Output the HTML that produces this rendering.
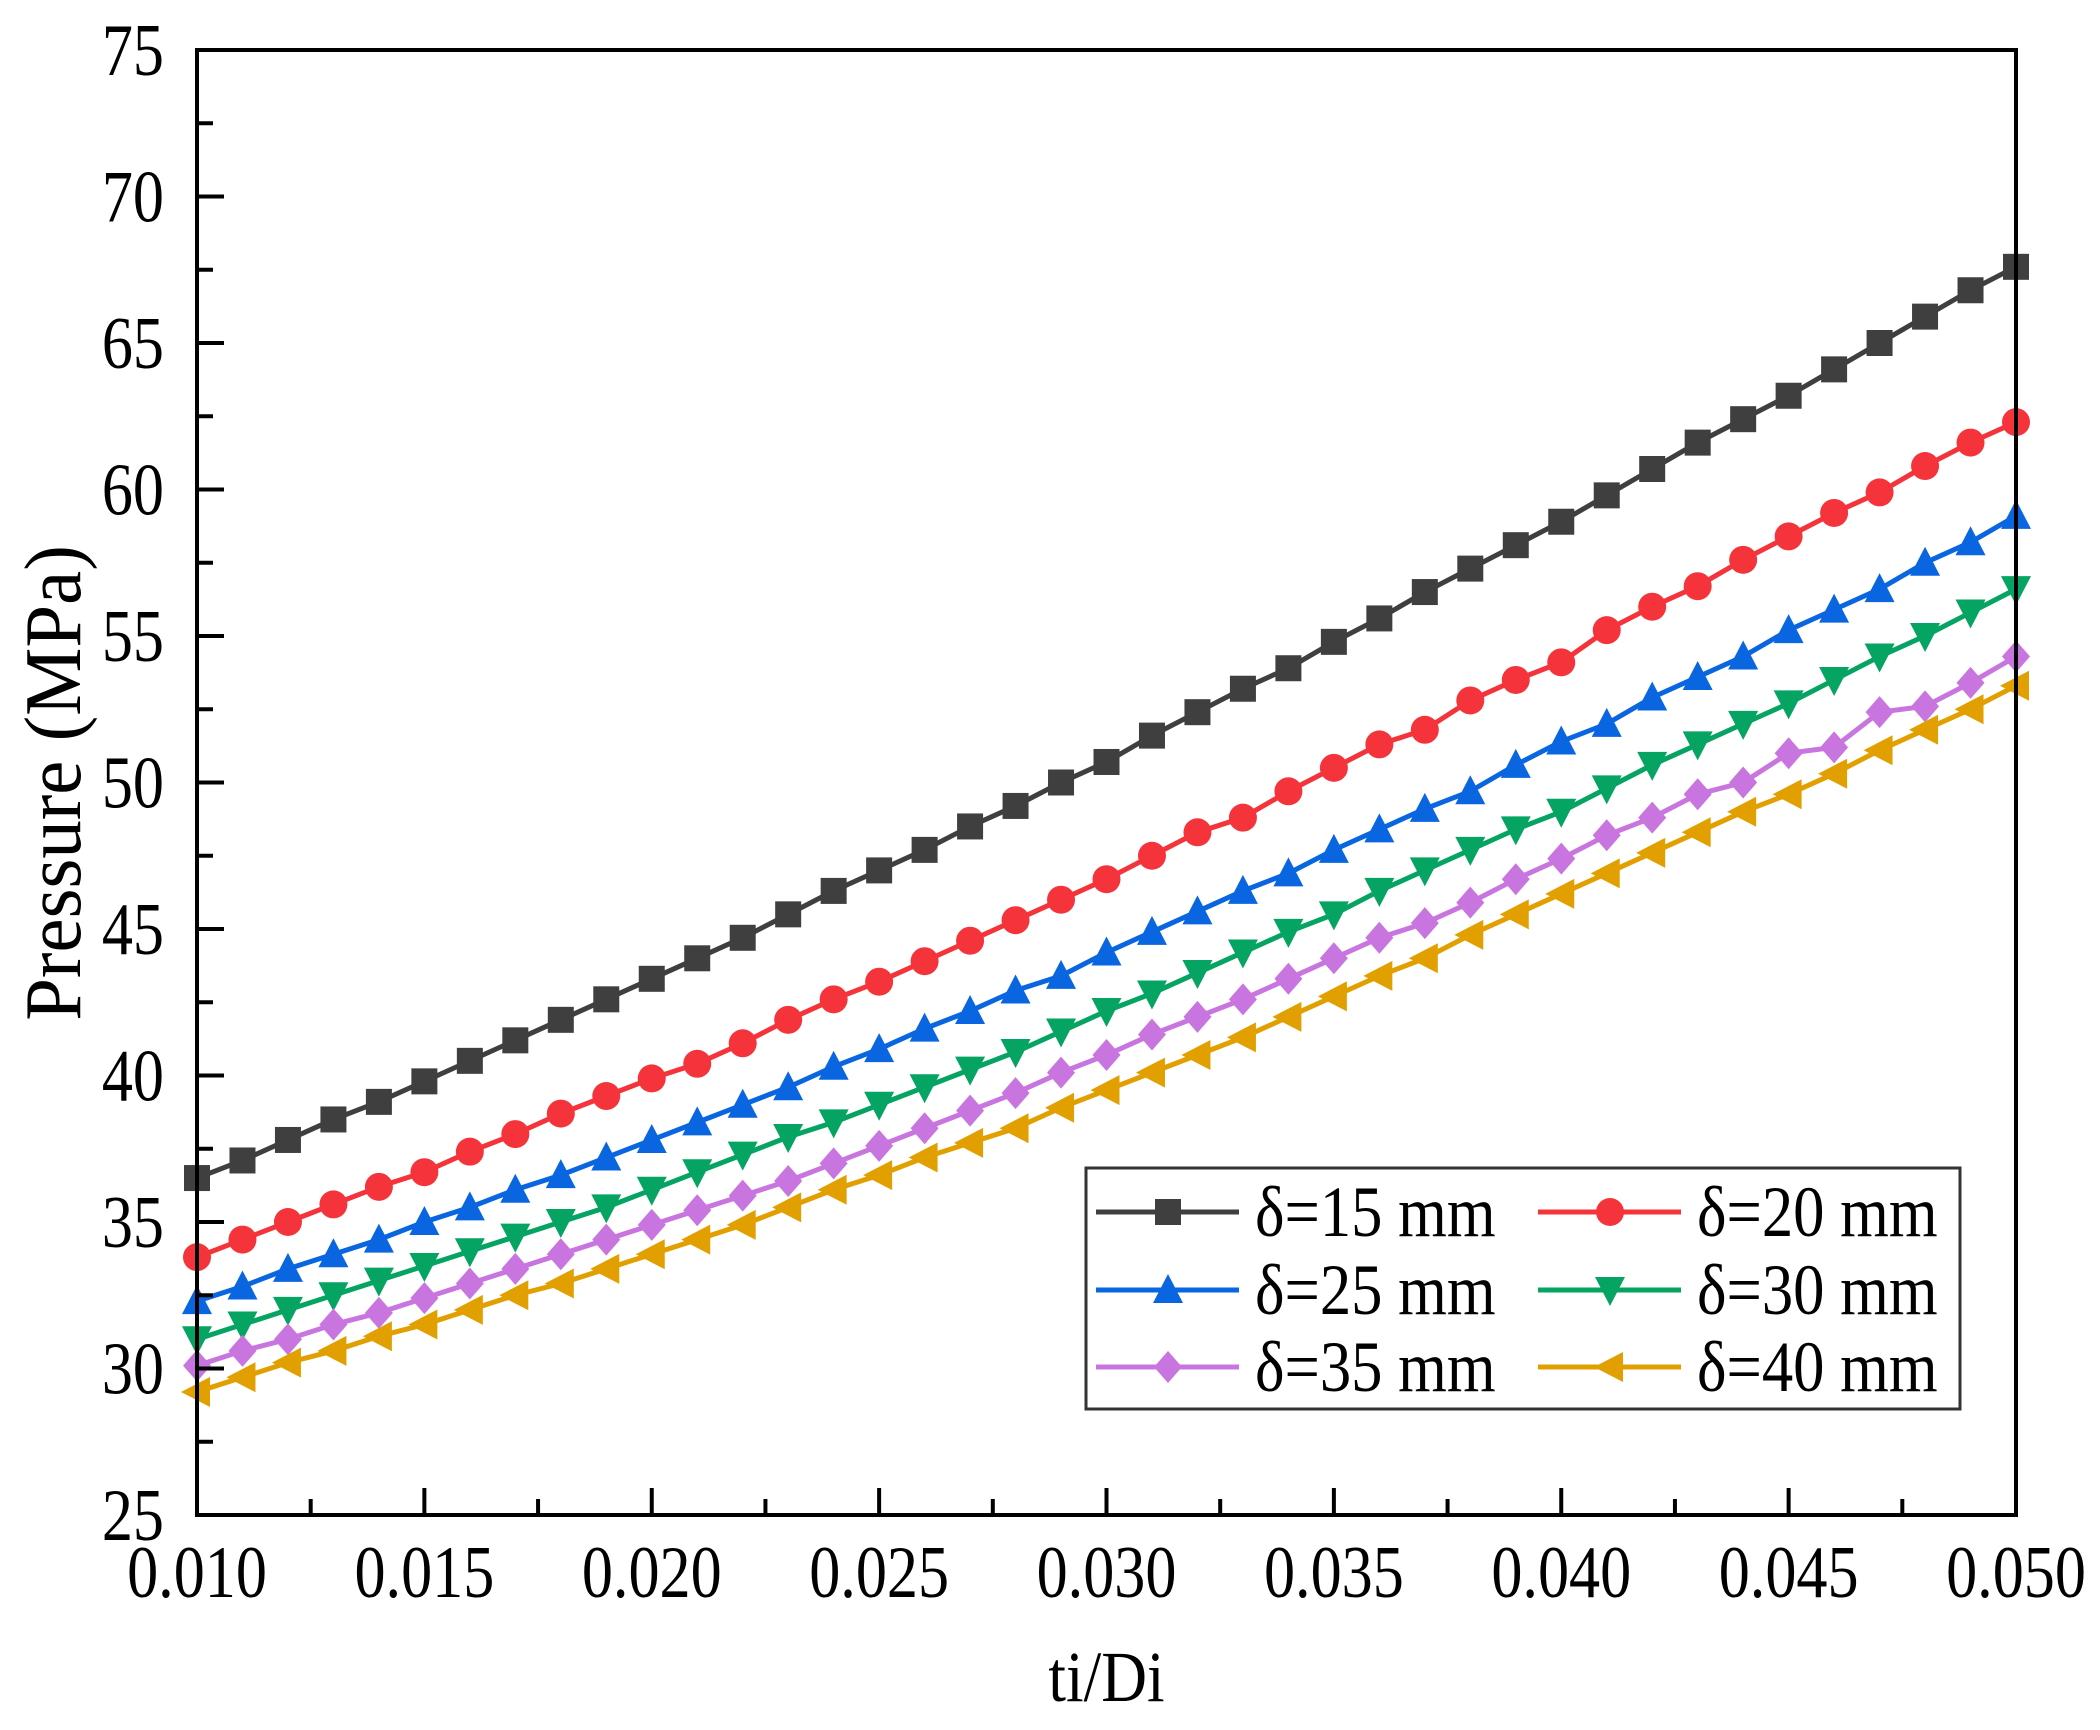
<!DOCTYPE html>
<html><head><meta charset="utf-8"><style>
html,body{margin:0;padding:0;background:#fff;}
svg{display:block;font-family:"Liberation Serif","DejaVu Serif",serif;}
</style></head><body>
<svg id="chart" width="2100" height="1730" viewBox="0 0 2100 1730" xmlns="http://www.w3.org/2000/svg">
<g id="series"></g>
<g id="axes"></g>
<g id="legend"></g>
</svg>
<script>
const xValues = [0.010,0.011,0.012,0.013,0.014,0.015,0.016,0.017,0.018,0.019,0.020,0.021,0.022,0.023,0.024,0.025,0.026,0.027,0.028,0.029,0.030,0.031,0.032,0.033,0.034,0.035,0.036,0.037,0.038,0.039,0.040,0.041,0.042,0.043,0.044,0.045,0.046,0.047,0.048,0.049,0.050];
const d15 = [36.5,37.1,37.8,38.5,39.1,39.8,40.5,41.2,41.9,42.6,43.3,44.0,44.7,45.5,46.3,47.0,47.7,48.5,49.2,50.0,50.7,51.6,52.4,53.2,53.9,54.8,55.6,56.5,57.3,58.1,58.9,59.8,60.7,61.6,62.4,63.2,64.1,65.0,65.9,66.8,67.6];
const d20 = [33.8,34.4,35.0,35.6,36.2,36.7,37.4,38.0,38.7,39.3,39.9,40.4,41.1,41.9,42.6,43.2,43.9,44.6,45.3,46.0,46.7,47.5,48.3,48.8,49.7,50.5,51.3,51.8,52.8,53.5,54.1,55.2,56.0,56.7,57.6,58.4,59.2,59.9,60.8,61.6,62.3];
const d25 = [32.3,32.8,33.4,33.9,34.4,35.0,35.5,36.1,36.6,37.2,37.8,38.4,39.0,39.6,40.3,40.9,41.6,42.2,42.9,43.4,44.2,44.9,45.6,46.3,46.9,47.7,48.4,49.1,49.7,50.6,51.4,52.0,52.9,53.6,54.3,55.2,55.9,56.6,57.5,58.2,59.1];
const d30 = [31.0,31.5,32.0,32.5,33.0,33.5,34.0,34.5,35.0,35.5,36.1,36.7,37.3,37.9,38.4,39.0,39.6,40.2,40.8,41.5,42.2,42.8,43.5,44.2,44.9,45.5,46.3,47.0,47.7,48.4,49.0,49.8,50.6,51.3,52.0,52.7,53.5,54.3,55.0,55.8,56.6];
const d35 = [30.1,30.6,31.0,31.5,31.9,32.4,32.9,33.4,33.9,34.4,34.9,35.4,35.9,36.4,37.0,37.6,38.2,38.8,39.4,40.1,40.7,41.4,42.0,42.6,43.3,44.0,44.7,45.2,45.9,46.7,47.4,48.2,48.8,49.6,50.0,51.0,51.2,52.4,52.6,53.4,54.3];
const d40 = [29.2,29.7,30.2,30.6,31.1,31.5,32.0,32.5,32.9,33.4,33.9,34.4,34.9,35.5,36.1,36.6,37.2,37.7,38.2,38.9,39.5,40.1,40.7,41.3,42.0,42.7,43.4,44.0,44.8,45.5,46.2,46.9,47.6,48.3,49.0,49.6,50.3,51.1,51.8,52.5,53.3];
const seriesLabels = ["δ=15 mm","δ=20 mm","δ=25 mm","δ=30 mm","δ=35 mm","δ=40 mm"];
const xTicks = [0.010,0.015,0.020,0.025,0.030,0.035,0.040,0.045,0.050];
const xTickLabels = ["0.010","0.015","0.020","0.025","0.030","0.035","0.040","0.045","0.050"];
const yTicks = [25,30,35,40,45,50,55,60,65,70,75];

const NS="http://www.w3.org/2000/svg";
const L=197,R=2016,T=50,B=1515;
const xMin=0.010,xMax=0.050,yMin=25,yMax=75;
function xs(v){return L+(v-xMin)/(xMax-xMin)*(R-L);}
function ys(v){return B-(v-yMin)/(yMax-yMin)*(B-T);}
function mk(tag,attrs,parent){const e=document.createElementNS(NS,tag);for(const k in attrs)e.setAttribute(k,attrs[k]);parent.appendChild(e);return e;}
function ctext(parent,str,x,y,size,anchor,sx,rot){
 const tr=`translate(${x},${y})`+(rot?` rotate(${rot})`:'')+` scale(${sx},1)`;
 const t=mk("text",{x:0,y:0,"text-anchor":anchor,"font-size":size,fill:"#000",transform:tr},parent);
 t.textContent=str;return t;
}

const styles=[
 {c:"#3f3f3f",m:"square"},{c:"#f4343a",m:"circle"},{c:"#0a66e0",m:"up"},
 {c:"#06a463",m:"down"},{c:"#c875e0",m:"diamond"},{c:"#e1a000",m:"left"}];
const allSeries=[d15,d20,d25,d30,d35,d40];
const S=13;
function marker(g,type,x,y,color){
 let e;
 if(type==="square") e=mk("rect",{x:x-S,y:y-S,width:2*S,height:2*S,fill:color},g);
 else if(type==="circle") e=mk("circle",{cx:x,cy:y,r:S+1,fill:color},g);
 else {
  let p;
  if(type==="up") p=[[x,y-S-3],[x+S+2,y+S],[x-S-2,y+S]];
  else if(type==="down") p=[[x,y+S+3],[x+S+2,y-S],[x-S-2,y-S]];
  else if(type==="diamond") p=[[x,y-S-3],[x+S+1,y],[x,y+S+3],[x-S-1,y]];
  else p=[[x-S-3,y],[x+S,y-S-2],[x+S,y+S+2]];
  e=mk("polygon",{points:p.map(q=>q.join(",")).join(" "),fill:color},g);
 }
 
 
}
const sg=document.getElementById("series");
allSeries.forEach((arr,i)=>{
 const g=mk("g",{},sg);
 
 
 const pl=mk("polyline",{points:arr.map((v,j)=>xs(xValues[j])+","+ys(v)).join(" "),fill:"none",stroke:styles[i].c,"stroke-width":5},g);
 
 
 arr.forEach((v,j)=>marker(g,styles[i].m,xs(xValues[j]),ys(v),styles[i].c));
});

const ag=document.getElementById("axes");
const frame=mk("path",{d:`M${L},${T} H${R} V${B} H${L} Z`,fill:"none",stroke:"#000","stroke-width":4},ag);


yTicks.forEach((v,i)=>{
 const y=ys(v);
 const t=mk("line",{x1:L,x2:L+27,y1:y,y2:y,stroke:"#000","stroke-width":4},ag);
 
 
 if(i<yTicks.length-1){const ym=ys(v+2.5);
  const m=mk("line",{x1:L,x2:L+16,y1:ym,y2:ym,stroke:"#000","stroke-width":4},ag);
  
  }
 const tx=ctext(ag,String(v),164,y+25,74,"end",0.84);
 
 
});
xTicks.forEach((v,i)=>{
 const x=xs(v);
 const t=mk("line",{x1:x,x2:x,y1:B,y2:B-27,stroke:"#000","stroke-width":4},ag);
 
 
 if(i<xTicks.length-1){const xm=xs(v+0.0025);
  const m=mk("line",{x1:xm,x2:xm,y1:B,y2:B-16,stroke:"#000","stroke-width":4},ag);
  
  }
 const tx=ctext(ag,xTickLabels[i],x,1597,74,"middle",0.84);
 
 
});
const xt=ctext(ag,"ti/Di",(L+R)/2,1701,72,"middle",0.88);


const yt=ctext(ag,"Pressure (MPa)",80,783,80,"middle",0.96,-90);



const lg=document.getElementById("legend");
const box=mk("rect",{x:1086,y:1168,width:874,height:241,fill:"#fff",stroke:"#333","stroke-width":3},lg);


const rowsY=[1212,1290,1367], colX=[1096,1538];
seriesLabels.forEach((lab,i)=>{
 const r=Math.floor(i/2), c=i%2, y=rowsY[r], x0=colX[c];
 const g=mk("g",{},lg);
 
 
 mk("line",{x1:x0,x2:x0+143,y1:y,y2:y,stroke:styles[i].c,"stroke-width":5},g);
 marker(g,styles[i].m,x0+72,y,styles[i].c);
 const t=ctext(g,lab,x0+159,y+24,72,"start",0.87);
 
 
});
</script>
</body></html>
